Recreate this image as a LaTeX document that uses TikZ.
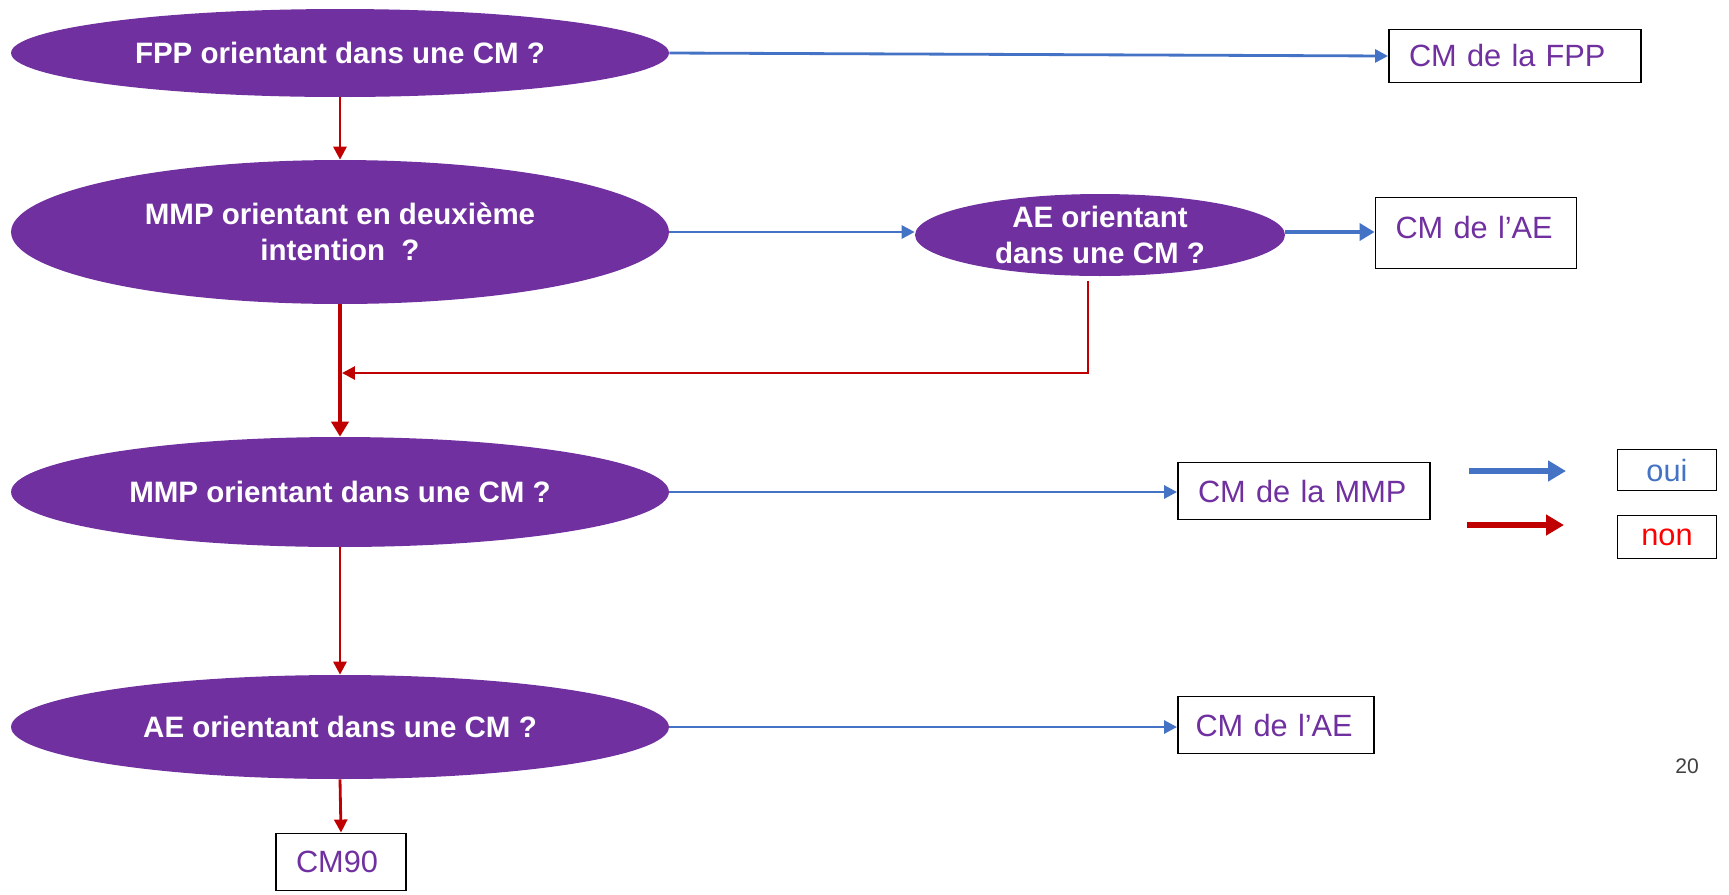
\documentclass[tikz,border=0pt]{standalone}
\usepackage{fontspec}
\setmainfont{Liberation Sans}
\usetikzlibrary{shapes.geometric,arrows.meta}
\definecolor{purp}{HTML}{7030A0}
\definecolor{bleu}{HTML}{4472C4}
\definecolor{rouge}{HTML}{C00000}
\definecolor{rougevif}{HTML}{FF0000}
\definecolor{gris}{HTML}{404040}
\begin{document}
\begin{tikzpicture}[x=0.02cm,y=-0.02cm,
  question/.style={ellipse,fill=purp,draw=none,inner sep=0pt,text=white,
    font=\fontsize{16.8}{20.5}\selectfont\bfseries,align=center},
  outcome/.style={rectangle,draw=black,line width=1.1pt,fill=white,inner xsep=0.4cm,
    inner ysep=0pt,text=purp,font=\fontsize{17.5}{21}\selectfont,align=left},
  legendbox/.style={rectangle,draw=black,line width=1.1pt,inner sep=0pt,
    font=\fontsize{17.5}{21}\selectfont,align=center},
  yes/.style={draw=bleu,line width=1.6pt,-{Triangle[length=0.26cm,width=0.26cm]}},
  yesthick/.style={draw=bleu,line width=2.6pt,-{Triangle[length=0.3cm,width=0.34cm]}},
  no/.style={draw=rouge,line width=1.6pt,-{Triangle[length=0.26cm,width=0.26cm]}},
  nothick/.style={draw=rouge,line width=2.6pt,-{Triangle[length=0.3cm,width=0.34cm]}},
  legyes/.style={draw=bleu,line width=3.1pt,-{Triangle[length=0.36cm,width=0.4cm]}},
  legno/.style={draw=rouge,line width=3.1pt,-{Triangle[length=0.36cm,width=0.4cm]}}
]
\useasboundingbox (0,0) rectangle (1729,894);

% question ellipses
\node[question,minimum width=13.16cm,minimum height=1.76cm] (e1) at (340,53)
  {FPP orientant dans une CM ?};
\node[question,minimum width=13.16cm,minimum height=2.88cm] (e2) at (340,232)
  {MMP orientant en deuxième\\intention \ ?};
\node[question,minimum width=7.4cm,minimum height=1.64cm] (ae1) at (1100,235)
  {AE orientant\\dans une CM ?};
\node[question,minimum width=13.16cm,minimum height=2.2cm] (e3) at (340,492)
  {MMP orientant dans une CM ?};
\node[question,minimum width=13.16cm,minimum height=2.08cm] (e4) at (340,727)
  {AE orientant dans une CM ?};

% outcome boxes
\node[outcome,text width=4.24cm,minimum height=1.06cm] (fpp) at (1515,56) {CM de la FPP};
\node[outcome,text width=3.22cm,minimum height=1.42cm,text depth=0.22cm] (aet) at (1476,233) {CM de l’AE};
\node[outcome,text width=4.24cm,minimum height=1.14cm] (mmp) at (1304,491) {CM de la MMP};
\node[outcome,inner xsep=0.35cm,text width=3.22cm,minimum height=1.14cm] (aeb) at (1276,725) {CM de l’AE};
\node[outcome,text width=1.8cm,minimum height=1.14cm] (cm90) at (341,862) {CM90};

% legend
\node[legendbox,text=bleu,minimum width=1.98cm,minimum height=0.82cm] (oui) at (1667,470) {oui};
\node[legendbox,text=rougevif,minimum width=1.98cm,minimum height=0.86cm] (non) at (1667,537) {non};
\coordinate (ly0) at (1469,471);
\coordinate (ly1) at (1566,471);
\coordinate (ln0) at (1467,525);
\coordinate (ln1) at (1564,525);
\draw[legyes] (ly0) -- (ly1);
\draw[legno] (ln0) -- (ln1);

% page number
\node[text=gris,font=\fontsize{12}{14}\selectfont] (page) at (1687,766) {20};

% "oui" branches
\draw[yes] (e1.east) -- (fpp.west);
\draw[yes] (e2.east) -- (ae1.west |- e2.east);
\draw[yesthick] (ae1.east |- e2.east) -- (aet.west |- e2.east);
\draw[yes] (e3.east) -- (mmp.west |- e3.east);
\draw[yes] (e4.east) -- (aeb.west |- e4.east);

% "non" branches
\coordinate (join) at (342,373);
\coordinate (aedrop) at (1088,281);
\draw[no] (e1.south) -- (e2.north);
\draw[nothick] (e2.south) -- (e3.north);
\draw[no] (aedrop) |- (join);
\draw[no] (e3.south) -- (e4.north);
\draw[no] (e4.south) -- (cm90.north);
\end{tikzpicture}
\end{document}
